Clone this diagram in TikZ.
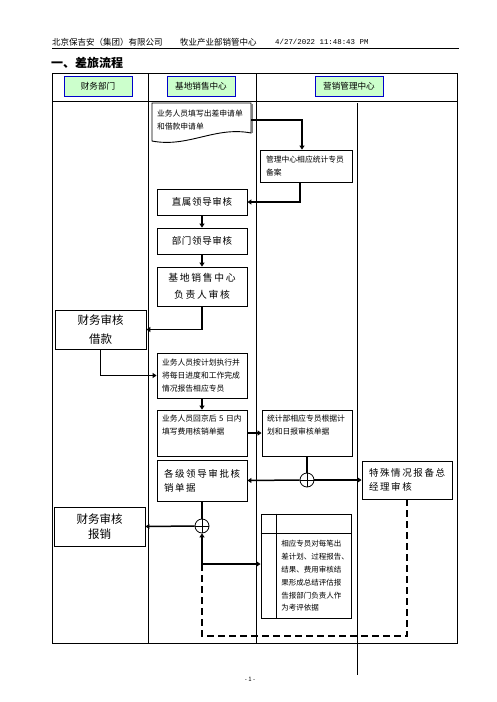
\documentclass[tikz,border=0pt]{standalone}
\usepackage{fontspec}
\setmainfont{Noto Sans CJK SC}
\setmonofont{Liberation Mono}
\newfontfamily\cjkwide[LetterSpace=17]{Noto Sans CJK SC}
\newfontfamily\cjkmid[LetterSpace=7]{Noto Sans CJK SC}
\usetikzlibrary{arrows.meta}
\definecolor{LaneGreen}{HTML}{CCFFCC}
\definecolor{LaneBlue}{HTML}{0000CC}

\begin{document}
\begin{tikzpicture}[x=1pt,y=-1pt,line cap=butt,line join=miter,
  lanehead/.style={draw=LaneBlue,fill=LaneGreen,line width=1pt,minimum width=68pt,minimum height=20pt,inner sep=0pt,font=\fontsize{8.6}{10}\selectfont},
  stepbox/.style={draw,line width=.9pt,minimum width=90pt,inner xsep=5pt,inner ysep=0pt,text width=80pt,align=left,font=\fontsize{7.8}{13}\selectfont},
  midbox/.style={draw,line width=.9pt,minimum width=90pt,inner sep=0pt,align=center,font=\cjkmid\fontsize{9.5}{17}\selectfont},
  widebox/.style={draw,line width=.9pt,minimum width=90pt,inner xsep=7pt,inner ysep=0pt,text width=76pt,align=left,font=\cjkwide\fontsize{9.5}{14}\selectfont},
  bigbox/.style={draw,line width=.9pt,minimum width=91pt,minimum height=39pt,inner sep=0pt,align=center,font=\fontsize{11.5}{19}\selectfont},
  junction/.style={circle,draw,line width=.8pt,minimum size=14pt,inner sep=0pt},
  flow/.style={line width=1.5pt,-{Triangle[length=4pt,width=5pt]}},
  plain/.style={line width=1.5pt},
  loop/.style={line width=2pt,dash pattern=on 7pt off 4pt}]
  \useasboundingbox (0,0) rectangle (496,702);
  \node[anchor=west,font=\fontsize{8.5}{10}\selectfont,inner sep=0pt] (company) at (52,42) {北京保吉安（集团）有限公司};
  \node[anchor=west,font=\fontsize{8.5}{10}\selectfont,inner sep=0pt] (unit) at (180,42) {牧业产业部销管中心};
  \node[anchor=west,font=\ttfamily\fontsize{7.4}{10}\selectfont,inner sep=0pt] (stamp) at (275,42) {4/27/2022  11:48:43 PM};
  \draw[line width=.8pt] (52,48) -- (459,48);
  \node[anchor=west,font=\bfseries\fontsize{12}{14}\selectfont,inner sep=0pt] (title) at (51,63) {一、差旅流程};
  \draw[line width=.9pt] (52,73) rectangle (457,643) (52,101) -- (457,101) (148,73) -- (148,643) (256,73) -- (256,643);
  \draw[line width=.9pt] (357,103) -- (357,675);
  \node[lanehead] (hFin) at (98,86) {财务部门};\node[lanehead] (hSales) at (201,86) {基地销售中心};\node[lanehead] (hMkt) at (349,86) {营销管理中心};
  \node[stepbox,draw=none,minimum width=99pt,text width=89pt,minimum height=34pt] (apply) at (201.5,120) {业务人员填写出差申请单\\和借款申请单};
  \draw[line width=.9pt] (152,103) -- (251,103) -- (251,133) .. controls (215,126) and (188,148) .. (152,141) -- cycle;
  \draw[gray,line width=1.2pt] (252,104) -- (252,133);
  \node[stepbox,minimum width=92pt,minimum height=32pt] (record) at (306,166) {管理中心相应统计专员\\备案};
  \node[midbox,minimum height=26pt] (direct) at (202,202) {直属领导审核};
  \node[midbox,minimum height=26pt] (dept) at (202,241) {部门领导审核};
  \node[midbox,minimum height=39pt,font=\cjkwide\fontsize{9.8}{17}\selectfont] (head) at (202,286.5) {基地销售中心\\负责人审核};
  \node[bigbox] (loan) at (100.5,329.5) {财务审核\\借款};
  \node[stepbox,minimum height=45pt] (exec) at (202,375.5) {业务人员按计划执行并\\将每日进度和工作完成\\情况报告相应专员};
  \node[stepbox,minimum height=46pt] (fill) at (202,433) {业务人员回京后 5 日内\\填写费用核销单据\\ \strut};
  \node[stepbox,minimum height=46pt] (check) at (307,433) {统计部相应专员根据计\\划和日报审核单据\\ \strut};
  \node[widebox,minimum height=41pt] (approve) at (202,480.5) {各级领导审批核\\销单据};
  \node[widebox,minimum height=38pt] (special) at (407,480) {特殊情况报备总\\经理审核};
  \node[bigbox,font=\fontsize{11.5}{15}\selectfont] (settle) at (99.5,526.5) {财务审核\\报销};
  \node[draw,line width=.9pt,minimum width=90pt,minimum height=104pt,inner sep=0pt] (report) at (306,566) {};
  \draw[line width=.9pt] ([xshift=16pt]report.north west) -- ([xshift=16pt]report.south west) ([yshift=-20pt]report.north west) -- ([yshift=-20pt]report.north east);
  \node[stepbox,draw=none,minimum width=0pt,text width=68pt,inner xsep=0pt,anchor=west,font=\fontsize{7.5}{12.8}\selectfont] (reportText) at (281,576) {相应专员对每笔出\\差计划、过程报告、\\结果、费用审核结\\果形成总结评估报\\告报部门负责人作\\为考评依据};
  \node[junction] (j1) at (307,480) {};\draw[line width=.8pt] (j1.north) -- (j1.south) (j1.west) -- (j1.east);
  \node[junction] (j2) at (202,526) {};\draw[line width=.8pt] (j2.north) -- (j2.south) (j2.west) -- (j2.east);
  \coordinate (split) at (202,564);\coordinate (loopend) at (202,636);
  \draw[flow] (apply.east) -| ([xshift=-4pt]record.north);
  \draw[flow] ([xshift=-6pt]record.south) |- (direct.east);
  \draw[flow] (direct) -- (dept);\draw[flow] (dept) -- (head);
  \draw[flow] (head.south) |- (loan.east);
  \draw[flow] (loan.south) |- (exec.west);
  \draw[flow] (exec) -- (fill);\draw[flow] (fill.east) -- (check.west);
  \draw[plain] (check.south) -- (j1.north);\draw[flow] (j1.west) -- (approve.east);\draw[flow] (j1.east) -- (special.west);
  \draw[plain] (approve.south) -- (j2.north);\draw[flow] (j2.west) -- (settle.east);
  \draw[flow] (split) -- (j2.south);\draw[flow] (split) -- (split -| report.west);
  \draw[loop] (special.south) |- (loopend) -- (split);
  \node[font=\fontsize{6}{7}\selectfont] (pageno) at (250,679) {- 1 -};
\end{tikzpicture}
\end{document}
